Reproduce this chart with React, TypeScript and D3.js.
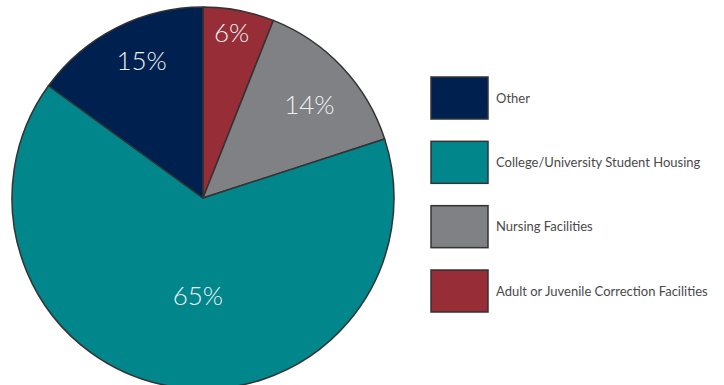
import React, { useEffect, useRef } from "react";
import * as d3 from "d3";

const categories = [
  "Adult or Juvenile Correction Facilities",
  "Nursing Facilities",
  "College/University Student Housing",
  "Other",
];
const shares = [6, 14, 65, 15];
const colors = ["#962d37", "#808184", "#00868b", "#00214f"];
// legend runs in a different order from the slices
const legendOrder = [
  "Other",
  "College/University Student Housing",
  "Nursing Facilities",
  "Adult or Juvenile Correction Facilities",
];

interface Slice {
  name: string;
  value: number;
}

// where each percent label sits: fraction of radius, angle nudge in degrees
const labelPos: Record<string, [number, number]> = {
  "Adult or Juvenile Correction Facilities": [0.88, -1],
  "Nursing Facilities": [0.74, 2],
  "College/University Student Housing": [0.51, -6],
  Other: [0.79, 3],
};

const App: React.FC = () => {
  const svgRef = useRef<SVGSVGElement | null>(null);

  useEffect(() => {
    const width = 724;
    const height = 385;
    const cx = 203;
    const cy = 198;
    const radius = 191;

    const data: Slice[] = categories.map((c, i) => ({ name: c, value: shares[i] }));
    const color = d3.scaleOrdinal<string, string>().domain(categories).range(colors);

    const svg = d3.select(svgRef.current).attr("width", width).attr("height", height);
    svg.selectAll("*").remove();

    const pie = d3
      .pie<Slice>()
      .sort(null)
      .value((d) => d.value);
    const arc = d3.arc<d3.PieArcDatum<Slice>>().innerRadius(0).outerRadius(radius);

    const g = svg.append("g").attr("transform", `translate(${cx}, ${cy})`);
    const arcs = pie(data);

    g.selectAll("path")
      .data(arcs)
      .enter()
      .append("path")
      .attr("d", arc)
      .attr("fill", (d) => color(d.data.name))
      .attr("stroke", "#333")
      .attr("stroke-width", 1.5)
      .attr("stroke-linejoin", "round");

    // percent labels
    g.selectAll("text.pct")
      .data(arcs)
      .enter()
      .append("text")
      .attr("class", "pct")
      .attr("transform", (d) => {
        const [f, nudge] = labelPos[d.data.name];
        const r = radius * f;
        const a = (d.startAngle + d.endAngle) / 2 + (nudge * Math.PI) / 180;
        return `translate(${Math.sin(a) * r}, ${-Math.cos(a) * r})`;
      })
      .attr("text-anchor", "middle")
      .attr("dy", "0.36em")
      .attr("font-family", "Lato, sans-serif")
      .attr("font-weight", 300)
      .attr("font-size", 26)
      .attr("fill", "#eef0f2")
      .text((d) => `${d.data.value}%`);

    // legend
    const legendY = d3.scalePoint<string>().domain(legendOrder).range([98, 291]);
    const legend = svg
      .selectAll("g.legend")
      .data(legendOrder)
      .enter()
      .append("g")
      .attr("class", "legend")
      .attr("transform", (d) => `translate(431, ${legendY(d)})`);

    legend
      .append("rect")
      .attr("x", 0)
      .attr("y", -21)
      .attr("width", 57)
      .attr("height", 42)
      .attr("fill", (d) => color(d))
      .attr("stroke", "#333")
      .attr("stroke-width", 1.5);

    legend
      .append("text")
      .attr("x", 65)
      .attr("dy", "0.35em")
      .attr("font-family", "Lato, sans-serif")
      .attr("font-size", 13)
      .attr("fill", "#4a4a4a")
      .text((d) => d);
  }, []);

  return (
    <svg
      ref={svgRef}
      style={{ position: "absolute", left: 0, top: 0, display: "block", background: "#fff" }}
    ></svg>
  );
};

export default App;
